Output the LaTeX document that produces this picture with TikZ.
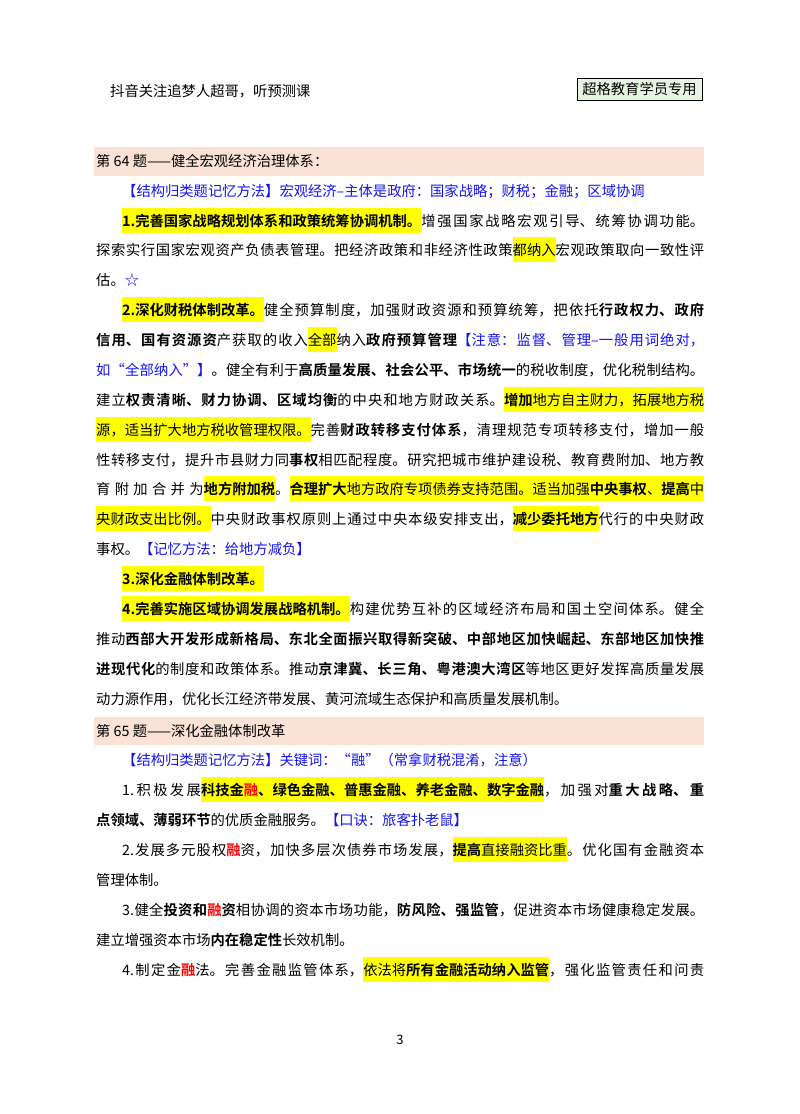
\documentclass[tikz,border=0pt]{standalone}
\usepackage{fontspec}
\setmainfont{Noto Sans CJK SC}[BoldFont={Noto Sans CJK SC Bold}]
\definecolor{pinkband}{RGB}{250,226,214}
\definecolor{hlyellow}{RGB}{255,255,0}
\definecolor{boxgreen}{RGB}{230,245,225}
\definecolor{memblue}{RGB}{20,20,240}
\XeTeXlinebreaklocale "zh"
\XeTeXlinebreakskip=0pt plus 3pt minus 0.3pt
\newcommand\hl[1]{{\setlength\fboxsep{0pt}\colorbox{hlyellow}{\rule[-7pt]{0pt}{25pt}#1}}}
\newcommand\fullline[2]{\parbox[b]{#1pt}{\parfillskip=0pt\noindent #2}}
\newcommand\bl[1]{{\color{memblue}#1}}
\newcommand\rd[1]{{\color{red}#1}}
\begin{document}
\begin{tikzpicture}[x=1pt,y=-1pt,
  txt/.style={anchor=base west,inner sep=0pt,font=\fontsize{14.3pt}{18pt}\selectfont}]
\useasboundingbox (0,0) rectangle (800,1114);
\fill[white] (0,0) rectangle (800,1114);
\node[txt] (hdr) at (110,96) {抖音关注追梦人超哥，听预测课};
\node[draw=black,fill=boxgreen,inner sep=2pt,minimum width=125pt,minimum height=22pt,font=\fontsize{14.3pt}{18pt}\selectfont] (tag) at (639.5,89) {超格教育学员专用};
\fill[pinkband] (94,147) rectangle (704,176);
\node[txt] (h64) at (96,166) {第 64 题——健全宏观经济治理体系：};
\node[txt] (l1) at (122,196) {\bl{【结构归类题记忆方法】宏观经济–主体是政府：国家战略；财税；金融；区域协调}};
\node[txt] (l2) at (122,226) {\fullline{582}{\hl{\textbf{1.完善国家战略规划体系和政策统筹协调机制。}}增强国家战略宏观引导、统筹协调功能。}};
\node[txt] (l3) at (96,255) {\fullline{608}{探索实行国家宏观资产负债表管理。把经济政策和非经济性政策\hl{都纳入}宏观政策取向一致性评}};
\node[txt] (l4) at (96,285) {估。\bl{☆}};
\node[txt] (l5) at (122,315) {\fullline{582}{\hl{\textbf{2.深化财税体制改革。}}健全预算制度，加强财政资源和预算统筹，把依托\textbf{行政权力、政府}}};
\node[txt] (l6) at (96,345) {\fullline{608}{\textbf{信用、国有资源资}产获取的收入\hl{全部}纳入\textbf{政府预算管理}\bl{【注意：监督、管理–一般用词绝对，}}};
\node[txt] (l7) at (96,375) {\fullline{608}{\bl{如“全部纳入”】}。健全有利于\textbf{高质量发展、社会公平、市场统一}的税收制度，优化税制结构。}};
\node[txt] (l8) at (96,405) {\fullline{608}{建立\textbf{权责清晰、财力协调、区域均衡}的中央和地方财政关系。\hl{\textbf{增加}地方自主财力，拓展地方税}}};
\node[txt] (l9) at (96,435) {\fullline{608}{\hl{源，适当扩大地方税收管理权限。}完善\textbf{财政转移支付体系}，清理规范专项转移支付，增加一般}};
\node[txt] (l10) at (96,465) {\fullline{608}{性转移支付，提升市县财力同\textbf{事权}相匹配程度。研究把城市维护建设税、教育费附加、地方教}};
\node[txt] (l11) at (96,494) {\fullline{608}{育附加合并为\hl{\textbf{地方附加税}}。\hl{\textbf{合理扩大}地方政府专项债券支持范围。适当加强\textbf{中央事权}、\textbf{提高}中}}};
\node[txt] (l12) at (96,524) {\fullline{608}{\hl{央财政支出比例。}中央财政事权原则上通过中央本级安排支出，\hl{\textbf{减少委托地方}}代行的中央财政}};
\node[txt] (l13) at (96,554) {事权。\bl{【记忆方法：给地方减负】}};
\node[txt] (l14) at (122,584) {\hl{\textbf{3.深化金融体制改革。}}};
\node[txt] (l15) at (122,614) {\fullline{582}{\hl{\textbf{4.完善实施区域协调发展战略机制。}}构建优势互补的区域经济布局和国土空间体系。健全}};
\node[txt] (l16) at (96,644) {\fullline{608}{推动\textbf{西部大开发形成新格局、东北全面振兴取得新突破、中部地区加快崛起、东部地区加快推}}};
\node[txt] (l17) at (96,674) {\fullline{608}{\textbf{进现代化}的制度和政策体系。推动\textbf{京津冀、长三角、粤港澳大湾区}等地区更好发挥高质量发展}};
\node[txt] (l18) at (96,704) {动力源作用，优化长江经济带发展、黄河流域生态保护和高质量发展机制。};
\fill[pinkband] (94,717) rectangle (704,745);
\node[txt] (h65) at (96,736) {第 65 题——深化金融体制改革};
\node[txt] (m1) at (122,765) {\bl{【结构归类题记忆方法】关键词：“融”（常拿财税混淆，注意）}};
\node[txt] (m2) at (122,795) {\fullline{582}{1.积极发展\hl{\textbf{科技金\rd{融}、绿色金融、普惠金融、养老金融、数字金融}}，加强对\textbf{重大战略、重}}};
\node[txt] (m3) at (96,825) {\textbf{点领域、薄弱环节}的优质金融服务。\bl{【口诀：旅客扑老鼠】}};
\node[txt] (m4) at (122,855) {\fullline{582}{2.发展多元股权\rd{\textbf{融}}资，加快多层次债券市场发展，\hl{\textbf{提高}直接融资比重}。优化国有金融资本}};
\node[txt] (m5) at (96,885) {管理体制。};
\node[txt] (m6) at (122,915) {\fullline{582}{3.健全\textbf{投资和\rd{融}资}相协调的资本市场功能，\textbf{防风险、强监管}，促进资本市场健康稳定发展。}};
\node[txt] (m7) at (96,945) {建立增强资本市场\textbf{内在稳定性}长效机制。};
\node[txt] (m8) at (122,975) {\fullline{582}{4.制定金\rd{\textbf{融}}法。完善金融监管体系，\hl{依法将\textbf{所有金融活动纳入监管}}，强化监管责任和问责}};
\node[inner sep=0pt,font=\fontsize{13pt}{15pt}\selectfont] (pg) at (400,1040) {3};
\end{tikzpicture}
\end{document}
